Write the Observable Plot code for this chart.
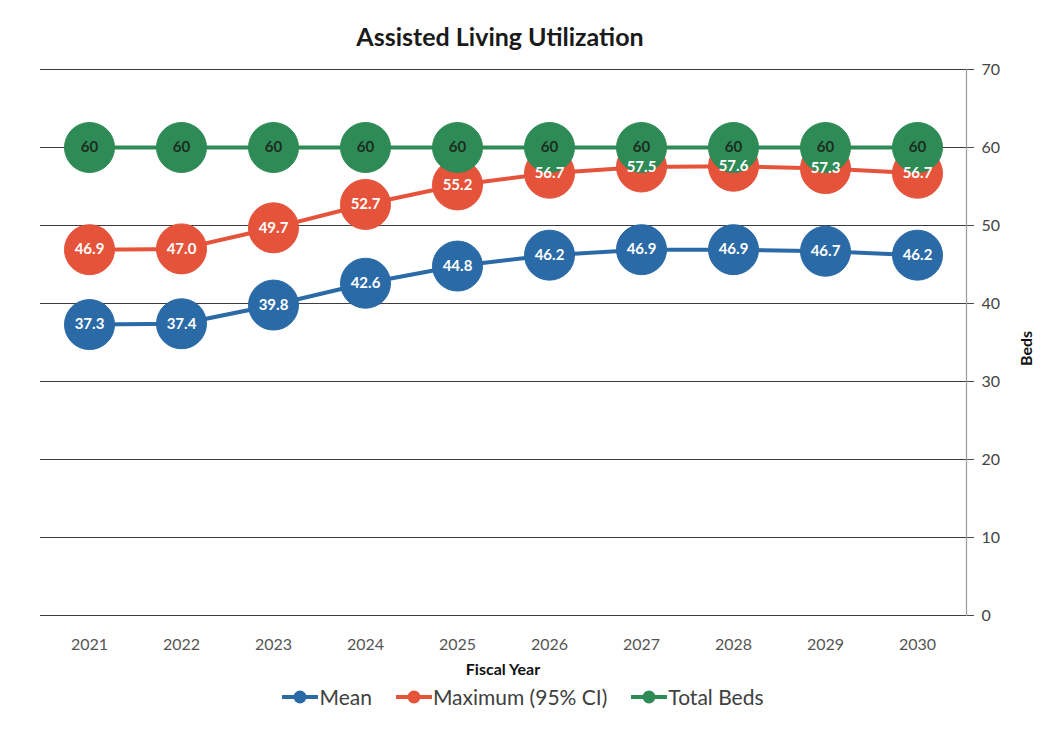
<!DOCTYPE html>
<html><head><meta charset="utf-8">
<script src="https://cdn.jsdelivr.net/npm/d3@7"></script>
<script src="https://cdn.jsdelivr.net/npm/@observablehq/plot@0.6"></script>
<style>
body{margin:0;background:#fff;font-family:Lato,"Open Sans",sans-serif;}
#wrap{position:relative;width:1043px;height:729px;overflow:hidden}
#title{position:absolute;left:0;top:21px;width:1000px;text-align:center;font-weight:bold;font-size:25px;color:#1a1a1a}
#chart{position:absolute;left:0;top:50px}
#xlab{position:absolute;left:0;top:659px;width:1006px;text-align:center;font-weight:bold;font-size:16px;color:#111}
#ylab{position:absolute;left:1005px;top:339px;transform:rotate(-90deg);transform-origin:center;font-weight:bold;font-size:16px;color:#111;width:40px;text-align:center}
#legend{position:absolute;left:0;top:684px;width:1046px;display:flex;justify-content:center;gap:24px;font-size:21px;color:#404040}
#legend span{display:inline-flex;align-items:center}
</style></head>
<body><div id="wrap">
<div id="title">Assisted Living Utilization</div>
<div id="chart"></div>
<div id="xlab">Fiscal Year</div>
<div id="ylab">Beds</div>
<div id="legend"></div>
</div>
<script>
const years = [2021, 2022, 2023, 2024, 2025, 2026, 2027, 2028, 2029, 2030];
const meanVals = [37.3, 37.4, 39.8, 42.6, 44.8, 46.2, 46.9, 46.9, 46.7, 46.2];
const maxVals = [46.9, 47.0, 49.7, 52.7, 55.2, 56.7, 57.5, 57.6, 57.3, 56.7];
const totalVals = [60, 60, 60, 60, 60, 60, 60, 60, 60, 60];
const seriesNames = ["Mean", "Maximum (95% CI)", "Total Beds"];
const seriesColors = ["#2a6aa6", "#e5533b", "#2e8b55"];
const yTicks = [0, 10, 20, 30, 40, 50, 60, 70];

const allVals = [meanVals, maxVals, totalVals];
const data = [];
seriesNames.forEach((s, i) => allVals[i].forEach((v, j) => data.push({
  series: s, year: String(years[j]), value: v,
  label: i === 2 ? String(v) : v.toFixed(1)
})));

const chart = Plot.plot({
  width: 1043, height: 630,
  marginLeft: 40, marginRight: 77, marginTop: 19, marginBottom: 65,
  style: {fontFamily: "Lato, sans-serif", background: "white"},
  x: {type: "point", domain: years.map(String), padding: 0.5},
  y: {domain: [0, 70]},
  color: {domain: seriesNames, range: seriesColors},
  marks: [
    Plot.ruleY(yTicks, {stroke: "#3d3d3d", strokeWidth: 1.2}),
    Plot.frame({anchor: "right", stroke: "#9a9a9a", strokeWidth: 1.2}),
    Plot.axisY({anchor: "right", ticks: yTicks, tickSize: 7, tickPadding: 8, label: null, fontSize: 16, fill: "#444", stroke: "#4d4d4d"}),
    Plot.axisX({tickSize: 0, tickPadding: 23, label: null, fontSize: 16, fill: "#555"}),
    Plot.line(data, {x: "year", y: "value", z: "series", stroke: "series", strokeWidth: 4}),
    Plot.dot(data, {x: "year", y: "value", fill: "series", r: 25, stroke: "series", strokeWidth: 1}),
    Plot.text(data.filter(d => d.series !== "Total Beds"), {x: "year", y: "value", text: "label", fill: "white", fontWeight: "bold", fontSize: 15}),
    Plot.text(data.filter(d => d.series === "Total Beds"), {x: "year", y: "value", text: "label", fill: "#1c2e22", fontWeight: "bold", fontSize: 15})
  ]
});
document.getElementById("chart").appendChild(chart);

const leg = document.getElementById("legend");
seriesNames.forEach((s, i) => {
  const sp = document.createElement("span");
  sp.innerHTML = `<svg width="36" height="16" style="margin-right:1px"><line x1="0" y1="8" x2="36" y2="8" stroke="${seriesColors[i]}" stroke-width="4"/><circle cx="18" cy="8" r="6.5" fill="${seriesColors[i]}"/></svg>`;
  sp.appendChild(document.createTextNode(s));
  leg.appendChild(sp);
});
</script>
</body></html>
